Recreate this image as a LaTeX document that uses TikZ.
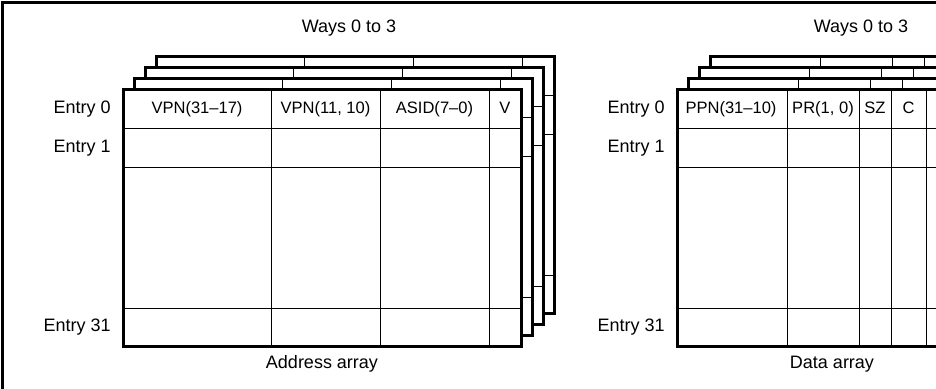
\documentclass[tikz,border=0pt]{standalone}
\usepackage{fontspec}
\setmainfont{Liberation Sans}
\usetikzlibrary{positioning}

\begin{document}
\begin{tikzpicture}[
    x=0.75pt, y=-0.75pt,
    frame/.style={line width=1.5pt},
    wayedge/.style={draw, line width=2.25pt},
    grid/.style={line width=0.75pt},
    lbl/.style={inner sep=0pt, text height=0.72em, text depth=0pt, font=\fontsize{13.5}{16}\selectfont},
    cell/.style={inner sep=0pt, text height=0.72em, text depth=0pt, font=\fontsize{12.4}{15}\selectfont}
]
    \useasboundingbox (0,0) rectangle (936,389);
    \clip (0,0) rectangle (936,389);

    % outer frame (cut off at the right and bottom)
    \draw[frame] (2.5,400) -- (2.5,2.5) -- (950,2.5);

    % address array: four ways, back to front
    \foreach \k in {3,2,1,0} {
        \begin{scope}[shift={(11*\k,-11*\k)}]
            \fill[white] (123,89) rectangle (521,346);
            \foreach \c in {271,380,489}
                \draw[grid] (\c,89) -- (\c,346);
            \foreach \r in {128,167,308}
                \draw[grid] (123,\r) -- (521,\r);
            \draw[wayedge] (123,89) rectangle (521,346);
        \end{scope}
    }

    % data array: four ways, back to front
    \foreach \k in {3,2,1,0} {
        \begin{scope}[shift={(11*\k,-11*\k)}]
            \fill[white] (677,89) rectangle (987,346);
            \foreach \c in {787,859,891,926,958}
                \draw[grid] (\c,89) -- (\c,346);
            \foreach \r in {128,167,308}
                \draw[grid] (677,\r) -- (987,\r);
            \draw[wayedge] (677,89) rectangle (987,346);
        \end{scope}
    }

    % address array labels
    \node[lbl] (waysA) at (349,27.5) {Ways 0 to 3};
    \node[lbl, anchor=east] (entA0) at (111,109) {Entry 0};
    \node[lbl, anchor=east] (entA1) at (111,148) {Entry 1};
    \node[lbl, anchor=east] (entA31) at (111,327) {Entry 31};
    \node[lbl] (addr) at (322,364) {Address array};
    \node[cell] (vpnhi) at (197,108.5) {VPN(31--17)};
    \node[cell] (vpnlo) at (325.5,108.5) {VPN(11, 10)};
    \node[cell] (asid) at (434.5,108.5) {ASID(7--0)};
    \node[cell] (valid) at (505,108.5) {V};

    % data array labels
    \node[lbl] (waysD) at (861,27.5) {Ways 0 to 3};
    \node[lbl, anchor=east] (entD0) at (665,109) {Entry 0};
    \node[lbl, anchor=east] (entD1) at (665,148) {Entry 1};
    \node[lbl, anchor=east] (entD31) at (665,327) {Entry 31};
    \node[lbl] (data) at (832,364) {Data array};
    \node[cell] (ppn) at (731,108.5) {PPN(31--10)};
    \node[cell] (prot) at (823,108.5) {PR(1, 0)};
    \node[cell] (size) at (875,108.5) {SZ};
    \node[cell] (cach) at (908.5,108.5) {C};
\end{tikzpicture}
\end{document}
